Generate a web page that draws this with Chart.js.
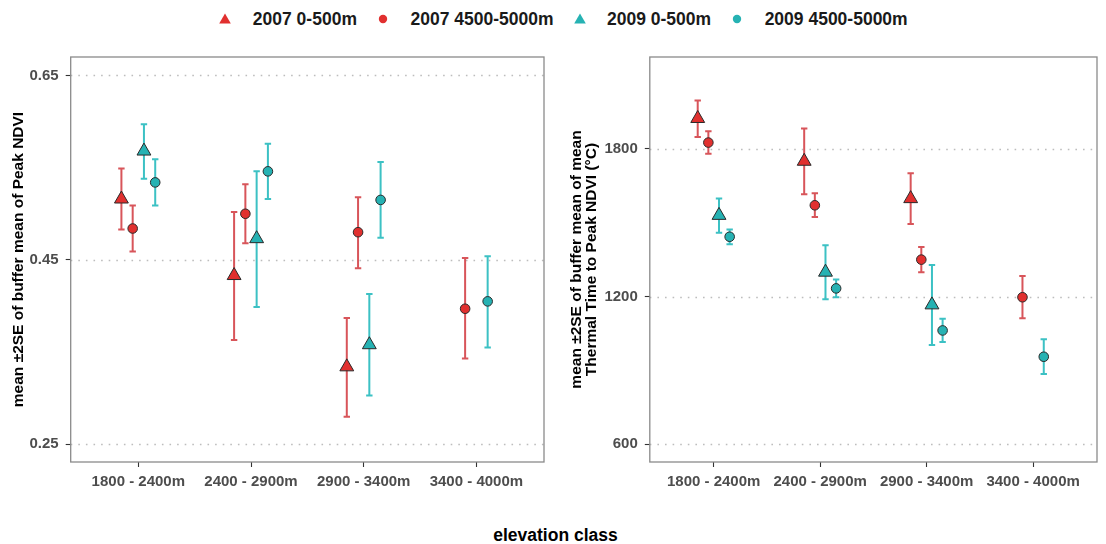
<!DOCTYPE html>
<html>
<head>
<meta charset="utf-8">
<script src="https://cdn.jsdelivr.net/npm/chart.js@4.4.1/dist/chart.umd.min.js"></script>
<style>
html,body{margin:0;padding:0;background:#fff;width:1106px;height:544px;overflow:hidden;font-family:"Liberation Sans",Arial,sans-serif;}
canvas{position:absolute;}
#c1{left:0;top:40px;}
#c2{left:560px;top:40px;}
#legend{position:absolute;top:8px;left:10px;width:1106px;height:22px;display:flex;justify-content:center;align-items:center;font-weight:bold;font-size:17.5px;line-height:22px;color:#1a1a1a;}
.item{display:flex;align-items:center;}
.item svg{display:block;}
.item span{margin-left:20.5px;margin-right:19px;white-space:nowrap;}
.item:last-child span{margin-right:0;}
#xtitle{position:absolute;left:0;top:525px;width:1111px;text-align:center;font-weight:bold;font-size:17.5px;line-height:20px;color:#000;}
</style>
</head>
<body>
<div id="legend"></div>
<canvas id="c1" width="560" height="480"></canvas>
<canvas id="c2" width="546" height="480"></canvas>
<div id="xtitle">elevation class</div>
<script>
// ---------------- DATA ----------------
const categories = ['1800 - 2400m', '2400 - 2900m', '2900 - 3400m', '3400 - 4000m'];
const seriesNames = ['2007 0-500m', '2007 4500-5000m', '2009 0-500m', '2009 4500-5000m'];

const ndviTickValues = [0.25, 0.45, 0.65];
const ndviTickLabels = ['0.25', '0.45', '0.65'];
const thermalTickValues = [600, 1200, 1800];
const thermalTickLabels = ['600', '1200', '1800'];

// Peak NDVI (left panel): mean, lower (-2SE), upper (+2SE)
const ndvi2007LowMean  = [0.516, 0.433, 0.334, null];
const ndvi2007LowLo    = [0.483, 0.363, 0.280, null];
const ndvi2007LowHi    = [0.549, 0.502, 0.387, null];
const ndvi2007HighMean = [0.484, 0.500, 0.480, 0.397];
const ndvi2007HighLo   = [0.459, 0.468, 0.441, 0.343];
const ndvi2007HighHi   = [0.509, 0.532, 0.518, 0.452];
const ndvi2009LowMean  = [0.568, 0.473, 0.358, null];
const ndvi2009LowLo    = [0.538, 0.399, 0.303, null];
const ndvi2009LowHi    = [0.597, 0.546, 0.413, null];
const ndvi2009HighMean = [0.534, 0.546, 0.515, 0.405];
const ndvi2009HighLo   = [0.509, 0.516, 0.474, 0.355];
const ndvi2009HighHi   = [0.559, 0.576, 0.556, 0.454];

// Thermal time to peak NDVI (right panel)
const tt2007LowMean  = [1924, 1750, 1598, null];
const tt2007LowLo    = [1849, 1616, 1495, null];
const tt2007LowHi    = [1997, 1883, 1701, null];
const tt2007HighMean = [1826, 1571, 1350, 1197];
const tt2007HighLo   = [1781, 1523, 1299, 1112];
const tt2007HighHi   = [1872, 1620, 1401, 1283];
const tt2009LowMean  = [1530, 1299, 1166, null];
const tt2009LowLo    = [1459, 1189, 1003, null];
const tt2009LowHi    = [1599, 1408, 1328, null];
const tt2009HighMean = [1443, 1233, 1062, 955];
const tt2009HighLo   = [1413, 1197, 1015, 885];
const tt2009HighHi   = [1473, 1269, 1110, 1026];

// ---------------- STYLE ----------------
const FONT = '"Liberation Sans", Arial, sans-serif';
const fills = ['#e1302f', '#e1302f', '#26b2b3', '#26b2b3'];
const barColors = ['#d8555a', '#d8555a', '#3cc1c4', '#3cc1c4'];
const shapes = ['triangle', 'circle', 'triangle', 'circle'];
const DODGE = 0.4;
Chart.defaults.font.family = FONT;

// legend
const legendEl = document.getElementById('legend');
seriesNames.forEach((name, s) => {
  const it = document.createElement('div');
  it.className = 'item';
  const svg = shapes[s] === 'triangle'
    ? `<svg width="14" height="14" viewBox="0 0 14 14"><polygon points="7,1.5 12.8,11.6 1.2,11.6" fill="${fills[s]}"/></svg>`
    : `<svg width="14" height="14" viewBox="0 0 14 14"><circle cx="7" cy="7" r="4.2" fill="${fills[s]}"/></svg>`;
  it.innerHTML = svg + `<span>${name}</span>`;
  legendEl.appendChild(it);
});

function buildDatasets(means, los, his) {
  return means.map((m, s) => {
    const data = [];
    m.forEach((v, c) => {
      if (v === null) return;
      const present = means.map(arr => arr[c] !== null);
      const n = present.filter(Boolean).length;
      const rank = present.slice(0, s).filter(Boolean).length;
      const x = (c + 1) - DODGE / 2 + DODGE * (rank + 0.5) / n;
      data.push({ x: x, y: v, lo: los[s][c], hi: his[s][c] });
    });
    return {
      label: seriesNames[s],
      data: data,
      pointStyle: shapes[s],
      pointRadius: shapes[s] === 'triangle' ? 8 : 4.8,
      pointHoverRadius: shapes[s] === 'triangle' ? 8 : 4.8,
      backgroundColor: fills[s],
      borderColor: '#2a2a2a',
      borderWidth: 1,
      barColor: barColors[s],
      showLine: false
    };
  });
}

const panelPlugin = {
  id: 'panel',
  beforeDatasetsDraw(chart) {
    const ctx = chart.ctx, a = chart.chartArea, ys = chart.scales.y, xs = chart.scales.x;
    ctx.save();
    // dotted horizontal grid
    ctx.strokeStyle = '#bdbdbd';
    ctx.lineWidth = 1.6;
    ctx.setLineDash([1.6, 6]);
    ys.ticks.forEach(t => {
      const py = Math.round(ys.getPixelForValue(t.value)) + 0.5;
      ctx.beginPath(); ctx.moveTo(a.left, py); ctx.lineTo(a.right, py); ctx.stroke();
    });
    ctx.setLineDash([]);
    // error bars
    chart.data.datasets.forEach(ds => {
      ctx.strokeStyle = ds.barColor;
      ctx.lineWidth = 2;
      ds.data.forEach(d => {
        const px = xs.getPixelForValue(d.x);
        const top = ys.getPixelForValue(d.hi), bot = ys.getPixelForValue(d.lo);
        ctx.beginPath();
        ctx.moveTo(px, top); ctx.lineTo(px, bot);
        ctx.moveTo(px - 3.2, top); ctx.lineTo(px + 3.2, top);
        ctx.moveTo(px - 3.2, bot); ctx.lineTo(px + 3.2, bot);
        ctx.stroke();
      });
    });
    ctx.restore();
  },
  afterDraw(chart) {
    const ctx = chart.ctx, a = chart.chartArea;
    ctx.save();
    ctx.strokeStyle = '#8a8a8a';
    ctx.lineWidth = 1.3;
    ctx.strokeRect(a.left, a.top, a.right - a.left, a.bottom - a.top);
    ctx.restore();
  }
};

function makeChart(id, datasets, yMin, yMax, tickVals, tickLabels, yTitle, yWidth, padRight, titlePad) {
  return new Chart(document.getElementById(id), {
    type: 'scatter',
    data: { datasets: datasets },
    options: {
      responsive: false,
      animation: false,
      devicePixelRatio: 1,
      layout: { padding: { left: 0, right: padRight, top: 17, bottom: 0 } },
      plugins: { legend: { display: false }, tooltip: { enabled: false } },
      events: [],
      scales: {
        x: {
          type: 'linear', min: 0.4, max: 4.6,
          afterBuildTicks: s => { s.ticks = categories.map((c, i) => ({ value: i + 1 })); },
          afterFit: s => { s.height = 58; },
          ticks: {
            callback: (v, i) => categories[i],
            font: { size: 15, weight: 'bold', family: FONT },
            color: '#4d4d4d', padding: 5.5, maxRotation: 0, autoSkip: false
          },
          grid: { drawOnChartArea: false, drawTicks: true, tickLength: 5, tickColor: '#333', tickWidth: 1.1 },
          border: { display: false }
        },
        y: {
          type: 'linear', min: yMin, max: yMax,
          afterBuildTicks: s => { s.ticks = tickVals.map(v => ({ value: v })); },
          afterFit: s => { s.width = yWidth; },
          ticks: {
            callback: (v, i) => tickLabels[i],
            font: { size: 15, weight: 'bold', family: FONT },
            color: '#4d4d4d', padding: 7
          },
          grid: { drawOnChartArea: false, drawTicks: true, tickLength: 5, tickColor: '#333', tickWidth: 1.1 },
          border: { display: false },
          title: {
            display: true, text: yTitle, color: '#000',
            font: { size: 15.5, weight: 'bold', lineHeight: 0.95, family: FONT },
            padding: { top: titlePad, bottom: 0 }
          }
        }
      }
    },
    plugins: [panelPlugin]
  });
}

makeChart('c1',
  buildDatasets(
    [ndvi2007LowMean, ndvi2007HighMean, ndvi2009LowMean, ndvi2009HighMean],
    [ndvi2007LowLo, ndvi2007HighLo, ndvi2009LowLo, ndvi2009HighLo],
    [ndvi2007LowHi, ndvi2007HighHi, ndvi2009LowHi, ndvi2009HighHi]),
  0.2308, 0.670, ndviTickValues, ndviTickLabels,
  'mean ±2SE of buffer mean of Peak NDVI', 70.7, 16, 11);

makeChart('c2',
  buildDatasets(
    [tt2007LowMean, tt2007HighMean, tt2009LowMean, tt2009HighMean],
    [tt2007LowLo, tt2007HighLo, tt2009LowLo, tt2009HighLo],
    [tt2007LowHi, tt2007HighHi, tt2009LowHi, tt2009HighHi]),
  527, 2174, thermalTickValues, thermalTickLabels,
  ['mean ±2SE of buffer mean of mean', 'Thermal Time to Peak NDVI (°C)'], 89.8, 4.5, 9.3);
</script>
</body>
</html>
